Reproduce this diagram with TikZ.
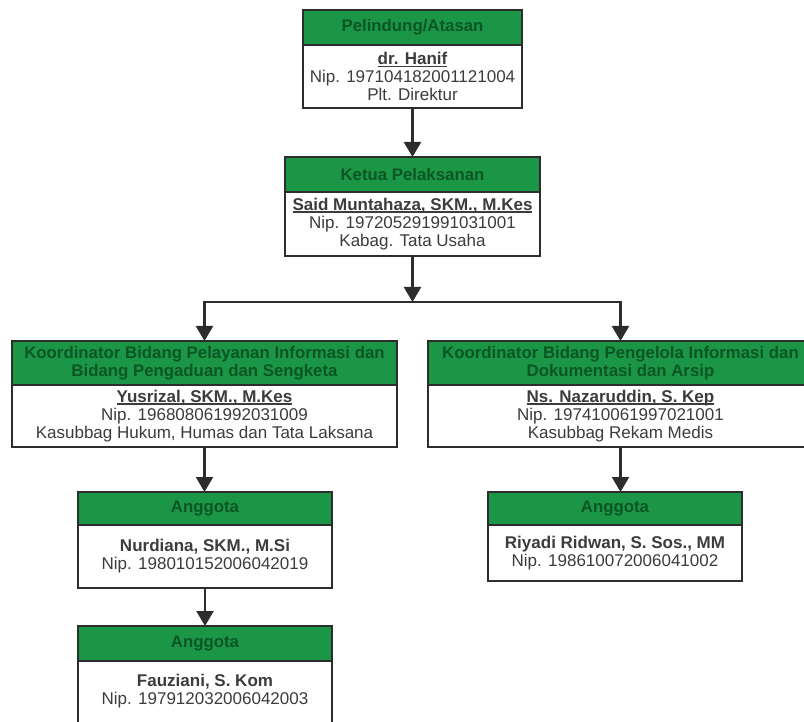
\documentclass[tikz,border=0pt]{standalone}
\usepackage{fontspec}
\setmainfont{Liberation Sans}
\usetikzlibrary{arrows.meta}
\definecolor{hdrgreen}{RGB}{26,150,70}
\definecolor{hdrtext}{RGB}{12,86,36}
\definecolor{framec}{RGB}{45,45,45}
\definecolor{bodytext}{RGB}{60,60,60}
\newcommand{\nm}[1]{{\bfseries\setbox0\hbox{#1}\rlap{\rule[-2.2pt]{\wd0}{1.1pt}}\box0}}
\tikzset{
  hdr/.style={draw=framec, line width=1.8pt, fill=hdrgreen, text=hdrtext,
    font=\fontsize{16.8}{18}\selectfont\bfseries, align=center,
    inner sep=0pt, outer sep=0pt, anchor=north west},
  bdy/.style={draw=framec, line width=1.8pt, fill=white, text=bodytext,
    font=\fontsize{17}{18}\selectfont, align=center,
    inner sep=0pt, outer sep=0pt, anchor=north west},
  txt/.style={text=bodytext, font=\fontsize{17}{18}\selectfont, align=center, inner sep=0pt},
  arr/.style={draw=framec, line width=2.4pt, -{Triangle[width=17pt,length=15pt]}},
  ln/.style={draw=framec, line width=2.4pt}
}
\begin{document}
\begin{tikzpicture}[x=1pt,y=-1pt]
\useasboundingbox (0,0) rectangle (804,722);
% box 1
\node[hdr, minimum width=219pt, minimum height=35pt] (h1) at (303,10) {Pelindung/Atasan};
\node[bdy, minimum width=219pt, minimum height=63pt] (b1) at (h1.south west)
  {\nm{dr. Hanif}\\Nip. 197104182001121004\\Plt. Direktur};
% box 2
\node[hdr, minimum width=255pt, minimum height=35pt] (h2) at (285,157) {Ketua Pelaksanan};
\node[bdy, minimum width=255pt, minimum height=64pt] (b2) at (h2.south west)
  {\nm{Said Muntahaza, SKM., M.Kes}\\Nip. 197205291991031001\\Kabag. Tata Usaha};
% row 3 left
\node[hdr, minimum width=385pt, minimum height=44pt] (h3l) at (12,341)
  {Koordinator Bidang Pelayanan Informasi dan\\Bidang Pengaduan dan Sengketa};
\node[bdy, minimum width=385pt, minimum height=62pt] (b3l) at (h3l.south west)
  {\nm{Yusrizal, SKM., M.Kes}\\Nip. 196808061992031009\\Kasubbag Hukum, Humas dan Tata Laksana};
% row 3 right
\node[hdr, minimum width=385pt, minimum height=44pt] (h3r) at (428,341)
  {Koordinator Bidang Pengelola Informasi dan\\Dokumentasi dan Arsip};
\node[bdy, minimum width=385pt, minimum height=62pt] (b3r) at (h3r.south west)
  {\nm{Ns. Nazaruddin, S. Kep}\\Nip. 197410061997021001\\Kasubbag Rekam Medis};
% row 4 left
\node[hdr, minimum width=254pt, minimum height=33pt] (h4l) at (78,492) {Anggota};
\node[bdy, minimum width=254pt, minimum height=63pt] (b4l) at (h4l.south west)
  {\textbf{Nurdiana, SKM., M.Si}\\Nip. 198010152006042019};
% row 4 right
\node[hdr, minimum width=254pt, minimum height=33pt] (h4r) at (488,492) {Anggota};
\node[bdy, minimum width=254pt, minimum height=56pt] (b4r) at (h4r.south west)
  {\textbf{Riyadi Ridwan, S. Sos., MM}\\Nip. 198610072006041002};
% row 5 left (bottom runs off the page)
\node[hdr, minimum width=254pt, minimum height=35pt] (h5l) at (78,626) {Anggota};
\node[bdy, minimum width=254pt, minimum height=90pt] (b5l) at (h5l.south west) {};
\node[txt, anchor=center] (t5l) at ([yshift=-30pt]h5l.south)
  {\textbf{Fauziani, S. Kom}\\Nip. 197912032006042003};
% connectors
\coordinate (j) at (412.5,302);
\draw[arr] (b1.south) -- (h2.north);
\draw[arr] (b2.south) -- (j);
\draw[ln] (h3l.north |- j) -- (h3r.north |- j);
\draw[arr] (j) -| (h3l.north);
\draw[arr] (j) -| (h3r.north);
\draw[arr] (b3l.south) -- (b3l.south |- h4l.north);
\draw[arr] (b3r.south) -- (b3r.south |- h4r.north);
\draw[arr] (b4l.south) -- (b4l.south |- h5l.north);
\end{tikzpicture}
\end{document}
